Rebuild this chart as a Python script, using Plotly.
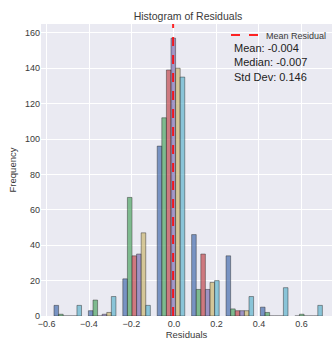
import plotly.graph_objects as go

# Bin centres of the residual histogram (8 bins)
bin_centers = [-0.500, -0.338, -0.176, -0.014, 0.148, 0.310, 0.472, 0.634]

# Counts per group (six residual series)
series_a = [6, 3, 21, 96, 46, 34, 5, 0]
series_b = [1, 9, 67, 112, 15, 4, 2, 1]
series_c = [0, 0, 34, 139, 35, 3, 0, 0]
series_d = [0, 1, 35, 157, 15, 3, 0, 0]
series_e = [0, 2, 47, 140, 19, 3, 0, 0]
series_f = [6, 11, 6, 135, 20, 11, 16, 6]

mean_resid = -0.004
median_resid = -0.007
std_resid = 0.146

colors = ["76,114,176", "85,168,104", "196,78,82", "129,114,178", "204,185,116", "100,181,205"]
all_series = [series_a, series_b, series_c, series_d, series_e, series_f]

FONT = "Liberation Sans, Arial, sans-serif"
TXT = "#3a3a3a"

fig = go.Figure()
for vals, c in zip(all_series, colors):
    fig.add_trace(go.Bar(
        x=bin_centers, y=vals,
        marker=dict(color=f"rgba({c},0.72)", line=dict(color="rgba(40,40,40,0.45)", width=1)),
        showlegend=False,
    ))

fig.add_shape(type="line", xref="x", yref="paper", x0=mean_resid, x1=mean_resid, y0=0, y1=1,
              line=dict(color="rgba(255,0,0,0.85)", width=2, dash="dash"),
              showlegend=True, name="Mean Residual")

fig.add_annotation(
    xref="paper", yref="paper", x=0.656, y=0.945, xanchor="left", yanchor="top",
    text=f"Mean: {mean_resid:.3f}<br>Median: {median_resid:.3f}<br>Std Dev: {std_resid:.3f}",
    showarrow=False, align="left", font=dict(family=FONT, size=11, color="#222222"),
)

fig.update_layout(
    width=332, height=342,
    margin=dict(l=41, r=0, t=24, b=26, autoexpand=False),
    paper_bgcolor="white", plot_bgcolor="#EAEAF2",
    barmode="group", bargap=0.2, bargroupgap=0,
    font=dict(family=FONT, size=9, color=TXT),
    title=dict(text="Histogram of Residuals", x=0.505, xanchor="center", xref="paper",
               y=1 - 16 / 342, yref="container", yanchor="middle",
               font=dict(family=FONT, size=10.5, color=TXT)),
    legend=dict(x=1.0, y=1.012, xanchor="right", yanchor="top", bgcolor="rgba(0,0,0,0)",
                font=dict(family=FONT, size=9, color=TXT)),
    xaxis=dict(range=[-0.626, 0.744], tickvals=[-0.6, -0.4, -0.2, 0.0, 0.2, 0.4, 0.6], tickformat=".1f",
               showgrid=True, gridcolor="white", gridwidth=1, zeroline=False, ticks="", automargin=False,
               ticklabelstandoff=1,
               title=dict(text="Residuals", standoff=1, font=dict(family=FONT, size=9.5, color=TXT))),
    yaxis=dict(range=[0, 165], dtick=20, showgrid=True, gridcolor="white", gridwidth=1, zeroline=False,
               ticks="", automargin=False,
               title=dict(text="Frequency", standoff=6, font=dict(family=FONT, size=9.5, color=TXT))),
)

fig.write_html("out.html", config={"displayModeBar": False},
               post_script="document.body.style.margin='0';document.body.style.overflow='hidden';")
